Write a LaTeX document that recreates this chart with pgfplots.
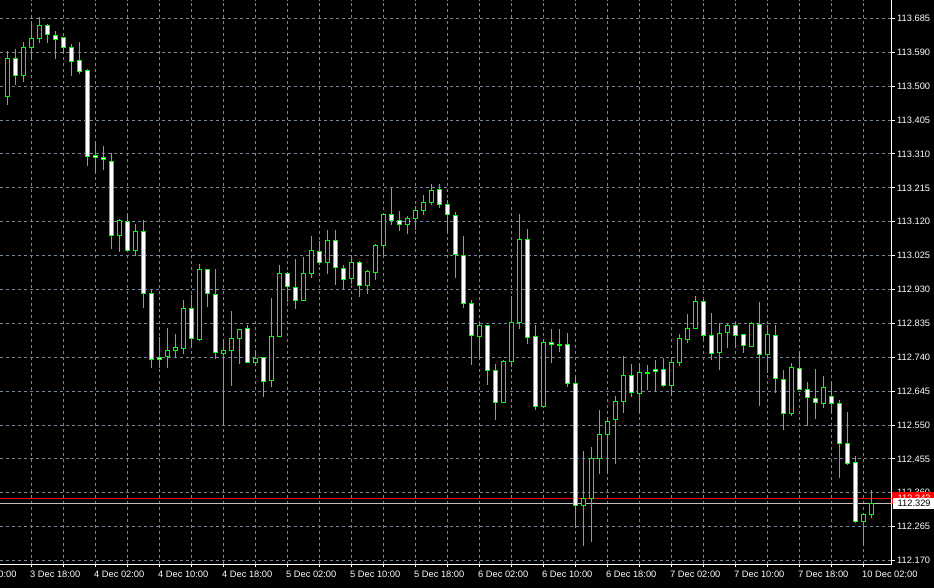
\documentclass[border=0pt]{standalone}
\usepackage{pgfplots}
\pgfplotsset{compat=1.18}
\usepackage{pgfplotstable}
\usepackage{fontspec}
\setmainfont{Liberation Sans}
\definecolor{lsg}{RGB}{119,136,153}
\definecolor{candlegreen}{RGB}{0,255,0}
\definecolor{bidgray}{RGB}{192,192,192}

% bearish (white) candles: index, open, high, low, close
\pgfplotstableread{
i o h l c
-4 113.520 113.527 113.457 113.466
-2 113.573 113.601 113.498 113.527
2 113.665 113.669 113.617 113.640
3 113.637 113.650 113.572 113.626
4 113.632 113.633 113.587 113.604
5 113.604 113.615 113.524 113.566
6 113.568 113.619 113.529 113.536
7 113.540 113.545 113.273 113.299
8 113.302 113.342 113.253 113.296
9 113.297 113.328 113.261 113.290
10 113.285 113.308 113.041 113.079
12 113.118 113.139 113.032 113.037
14 113.090 113.121 112.876 112.916
15 112.916 112.926 112.708 112.732
16 112.738 112.795 112.708 112.732
20 112.874 112.912 112.767 112.791
22 112.983 112.984 112.879 112.916
23 112.914 112.986 112.732 112.752
27 112.819 112.827 112.723 112.724
29 112.738 112.739 112.627 112.670
32 112.972 112.977 112.893 112.935
33 112.933 113.014 112.873 112.896
36 113.034 113.063 112.996 113.003
38 113.065 113.093 112.940 112.989
39 112.986 112.997 112.928 112.956
41 113.003 113.008 112.907 112.940
45 113.137 113.211 113.109 113.120
46 113.120 113.146 113.091 113.109
51 113.207 113.222 113.154 113.165
52 113.165 113.177 113.084 113.137
53 113.134 113.144 112.960 113.025
54 113.023 113.077 112.876 112.888
55 112.888 112.898 112.716 112.799
57 112.827 112.828 112.660 112.701
58 112.701 112.718 112.564 112.612
62 113.067 113.098 112.774 112.793
63 112.796 112.828 112.592 112.601
65 112.779 112.817 112.721 112.774
66 112.775 112.817 112.752 112.770
67 112.774 112.805 112.655 112.665
68 112.665 112.686 112.262 112.324
75 112.687 112.719 112.626 112.640
78 112.704 112.730 112.641 112.698
79 112.704 112.736 112.654 112.659
84 112.894 112.902 112.788 112.799
85 112.799 112.862 112.730 112.749
88 112.827 112.834 112.764 112.799
89 112.802 112.803 112.750 112.771
91 112.830 112.892 112.601 112.746
93 112.799 112.827 112.639 112.679
94 112.676 112.702 112.534 112.581
96 112.707 112.755 112.646 112.648
97 112.648 112.668 112.546 112.626
98 112.623 112.704 112.566 112.612
100 112.629 112.670 112.581 112.609
101 112.609 112.620 112.402 112.497
102 112.497 112.585 112.438 112.441
103 112.444 112.461 112.276 112.279
}\bear

% bullish (hollow) candles
\pgfplotstableread{
i o h l c
-3 113.466 113.594 113.443 113.573
-1 113.527 113.619 113.507 113.604
0 113.603 113.677 113.568 113.629
1 113.628 113.688 113.617 113.665
11 113.079 113.124 113.032 113.120
13 113.037 113.110 113.021 113.090
17 112.739 112.819 112.708 112.757
18 112.757 112.803 112.736 112.764
19 112.763 112.898 112.747 112.874
21 112.788 112.998 112.784 112.983
24 112.749 112.788 112.548 112.757
25 112.757 112.867 112.658 112.791
26 112.791 112.817 112.720 112.816
28 112.724 112.757 112.715 112.735
30 112.673 112.903 112.654 112.796
31 112.796 112.996 112.795 112.972
34 112.896 113.017 112.895 112.972
35 112.972 113.077 112.961 113.037
37 113.003 113.095 112.972 113.065
40 112.957 113.017 112.944 113.003
42 112.940 112.983 112.915 112.978
43 112.975 113.056 112.954 113.051
44 113.051 113.142 113.023 113.137
47 113.109 113.134 113.083 113.126
48 113.125 113.160 113.093 113.148
49 113.148 113.191 113.136 113.171
50 113.171 113.222 113.165 113.204
56 112.796 112.836 112.733 112.827
59 112.612 112.730 112.609 112.726
60 112.726 112.909 112.711 112.835
61 112.835 113.138 112.817 113.067
64 112.601 112.788 112.598 112.779
69 112.324 112.476 112.211 112.343
70 112.343 112.486 112.222 112.455
71 112.455 112.590 112.413 112.522
72 112.522 112.570 112.411 112.559
73 112.564 112.631 112.441 112.615
74 112.615 112.743 112.581 112.687
76 112.637 112.721 112.581 112.696
77 112.692 112.716 112.646 112.695
80 112.659 112.738 112.631 112.724
81 112.724 112.802 112.715 112.791
82 112.788 112.859 112.777 112.819
83 112.819 112.909 112.818 112.894
86 112.752 112.833 112.702 112.805
87 112.806 112.834 112.764 112.827
90 112.768 112.836 112.767 112.833
92 112.746 112.827 112.695 112.802
95 112.581 112.721 112.573 112.710
99 112.609 112.687 112.597 112.654
104 112.279 112.302 112.211 112.299
105 112.299 112.366 112.288 112.329
}\bull

\newcommand{\mtfont}{\fontsize{9.3bp}{11bp}\selectfont}

% a candle is drawn at (i, open); 357.76 bp per price unit (564.5bp / 1.57787)
\pgfplotsset{candle/.style={
  only marks, scatter, mark=*, mark size=0pt, mark options={draw=none, fill=none},
  visualization depends on={357.76*(\thisrow{h}-\thisrow{o}) \as \hu},
  visualization depends on={357.76*(\thisrow{l}-\thisrow{o}) \as \ld},
  visualization depends on={357.76*(\thisrow{c}-\thisrow{o}) \as \cd},
  scatter/@pre marker code/.code={%
    \draw[candlegreen, line width=1bp] (0bp,\ld bp) -- (0bp,\hu bp);
    \filldraw[fill=#1, draw=candlegreen, line width=1bp] (-2bp,0bp) rectangle (2bp,\cd bp);
  },
  scatter/@post marker code/.code={},
}}

\begin{document}
\begin{tikzpicture}
\useasboundingbox (0,-23.5bp) rectangle (934bp,564.5bp);
\fill[black] (0,-23.5bp) rectangle (934bp,564.5bp);
\begin{axis}[
  scale only axis, width=891.5bp, height=564.5bp,
  xmin=-3.9375, xmax=107.5, ymin=112.15884, ymax=113.73671,
  axis background/.style={fill=black},
  axis x line*=bottom, axis y line*=right,
  axis line style={draw=white, line width=1bp, -},
  xtick={0,8,...,104},
  xticklabels={3 Dec 18:00,4 Dec 02:00,4 Dec 10:00,4 Dec 18:00,5 Dec 02:00,5 Dec 10:00,5 Dec 18:00,6 Dec 02:00,6 Dec 10:00,6 Dec 18:00,7 Dec 02:00,7 Dec 10:00,7 Dec 18:00,10 Dec 02:00},
  minor xtick={4,12,...,100},
  ytick={112.17,112.2646875,112.359375,112.4540625,112.54875,112.6434375,112.738125,112.8328125,112.9275,113.0221875,113.116875,113.2115625,113.30625,113.4009375,113.495625,113.5903125,113.685},
  yticklabels={112.170,112.265,112.360,112.455,112.550,112.645,112.740,112.835,112.930,113.025,113.120,113.215,113.310,113.405,113.500,113.590,113.685},
  grid=both,
  major grid style={draw=lsg, line width=1bp, dash pattern=on 3bp off 3bp},
  minor grid style={draw=lsg, line width=1bp, dash pattern=on 3bp off 3bp},
  tick align=outside, major tick length=3bp, minor tick length=3bp,
  tick style={draw=white, line width=1bp},
  tick label style={text=white, font=\mtfont, inner sep=0pt},
  xticklabel style={anchor=north west, xshift=-1.5bp, yshift=-3.2bp},
  yticklabel style={anchor=west, xshift=2.5bp},
]
\addplot[draw=red, line width=1bp] coordinates {(-3.9375,112.3433) (107.5,112.3433)};
\addplot[draw=bidgray, line width=1bp] coordinates {(-3.9375,112.3293) (107.5,112.3293)};
\addplot[candle=white] table[x=i, y=o] {\bear};
\addplot[candle=black] table[x=i, y=o] {\bull};
\end{axis}
% price labels on the right
\fill[red] (892bp,60bp) rectangle (934bp,72bp);
\node[anchor=west, text=white, inner sep=0pt, font=\mtfont] at (897.5bp,66bp) {112.343};
\fill[white] (892.5bp,55.5bp) rectangle (934bp,66.5bp);
\node[anchor=west, text=black, inner sep=0pt, font=\mtfont] at (897.5bp,61bp) {112.329};
% partially visible time label at the left edge
\node[anchor=north west, text=white, inner sep=0pt, font=\mtfont] at (-33.9bp,-6.2bp) {3 Dec 10:00};
\end{tikzpicture}
\end{document}
